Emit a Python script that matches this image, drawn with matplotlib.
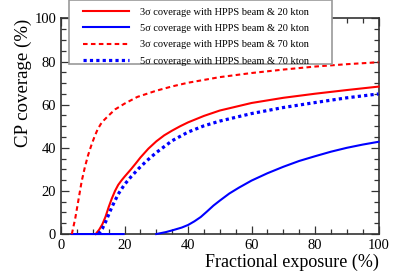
import numpy as np
import matplotlib
matplotlib.use("Agg")
import matplotlib.pyplot as plt
from matplotlib.patches import Rectangle

plt.rcParams['font.family'] = ['Liberation Serif', 'DejaVu Serif']

# 3 sigma, HPPS beam, 20 kton
x_3s_20 = [10.9, 12, 13, 14, 15, 16, 17, 18, 19, 20, 21, 22, 23.5, 25, 27.5, 30,
           32.5, 35, 37.5, 40, 45, 50, 60, 70, 80, 90, 100]
y_3s_20 = [0, 2, 4.5, 8, 12.5, 16.5, 20, 22.8, 24.8, 26.6, 28.3, 30, 32.7, 35.5,
           39.6, 43, 45.8, 48, 50, 51.8, 54.8, 57.3, 60.8, 63.2, 65.1, 66.8, 68.4]

# 5 sigma, HPPS beam, 20 kton (flat piece at zero, then the rise)
x_5s_20 = [3.3, 19.7, np.nan, 30, 33, 35, 38, 40, 42, 44, 46, 48, 50, 53, 56, 60,
           65, 70, 75, 80, 85, 90, 95, 100]
y_5s_20 = [0, 0, np.nan, 0, 0.9, 1.7, 3, 4.2, 5.9, 7.9, 10.5, 13.2, 15.5, 18.8,
           21.5, 24.8, 28.2, 31.2, 33.9, 36.1, 38.2, 40.0, 41.5, 42.8]

# 3 sigma, HPPS beam, 70 kton
x_3s_70 = [3.4, 4.5, 5.5, 6.5, 7.5, 8.5, 9.5, 10.5, 11.5, 12.5, 13.5, 15, 17, 20,
           24, 30, 35, 40, 50, 60, 70, 80, 90, 100]
y_3s_70 = [0, 7.5, 16, 24.5, 31, 36.5, 41, 45, 48.5, 51, 52.8, 55, 57.8, 60.5,
           63.6, 66.5, 68.5, 70.2, 72.8, 74.7, 76.3, 77.7, 78.8, 79.7]

# 5 sigma, HPPS beam, 70 kton
x_5s_70 = [11.8, 13, 14, 15, 16, 17, 18, 20, 22, 24.4, 27, 30, 35, 40, 45, 50,
           60, 70, 80, 90, 100]
y_5s_70 = [0, 2.5, 5.5, 9, 12.5, 15.5, 18.5, 23, 26.5, 30.3, 34, 37.8, 43.3,
           47.3, 50.2, 52.4, 55.9, 58.7, 61, 63.2, 65]

labels = ["3σ coverage with HPPS beam & 20 kton",
          "5σ coverage with HPPS beam & 20 kton",
          "3σ coverage with HPPS beam & 70 kton",
          "5σ coverage with HPPS beam & 70 kton"]

fig = plt.figure(figsize=(4.07, 2.76), dpi=100)
ax = fig.add_axes([0.15, 0.152, 0.78, 0.781])

l1, = ax.plot(x_3s_20, y_3s_20, color='#ff0000', lw=1.5, label=labels[0])
l2, = ax.plot(x_5s_20, y_5s_20, color='#0000ff', lw=1.5, label=labels[1])
l3, = ax.plot(x_3s_70, y_3s_70, color='#ff0000', lw=1.5, dashes=(2.2, 1.6),
              label=labels[2])
l4, = ax.plot(x_5s_70, y_5s_70, color='#0000ff', lw=2.3, dashes=(1.0, 1.0),
              label=labels[3])
for l in (l1, l2, l3, l4):
    l.set_clip_on(False)
    l.set_zorder(3)

ax.set_xlim(0, 100)
ax.set_ylim(0, 100)
ax.set_xticks([0, 20, 40, 60, 80, 100])
ax.set_yticks([0, 20, 40, 60, 80, 100])
ax.set_xticks(np.arange(0, 101, 5), minor=True)
ax.set_yticks(np.arange(0, 101, 5), minor=True)
ax.tick_params(which='both', direction='in', top=True, right=True,
               labelsize=10.5, width=0.9, color='#333333')
ax.tick_params(which='major', length=6)
ax.tick_params(which='minor', length=3.5)
for s in ax.spines.values():
    s.set_linewidth(1.2)
    s.set_color('#333333')

ax.set_xlabel("Fractional exposure (%)", fontsize=13, loc='right', labelpad=1)
ax.set_ylabel("CP coverage (%)", fontsize=13.6, loc='top', labelpad=2)

# legend box (sticks out above the frame)
box = Rectangle((69 / 407, 1 - 63.5 / 276), 262.5 / 407, 63 / 276,
                transform=fig.transFigure, facecolor='white',
                edgecolor='#999999', lw=1.2, zorder=10)
fig.patches.append(box)
leg = fig.legend(handles=[l1, l2, l3, l4], loc='upper left',
                 bbox_to_anchor=(76 / 407, 1.0), frameon=False, fontsize=7.45,
                 handlelength=4.4, handletextpad=1.1, labelspacing=0.68,
                 borderpad=0.22)
leg.set_zorder(11)

fig.savefig("out.png", dpi=100)
